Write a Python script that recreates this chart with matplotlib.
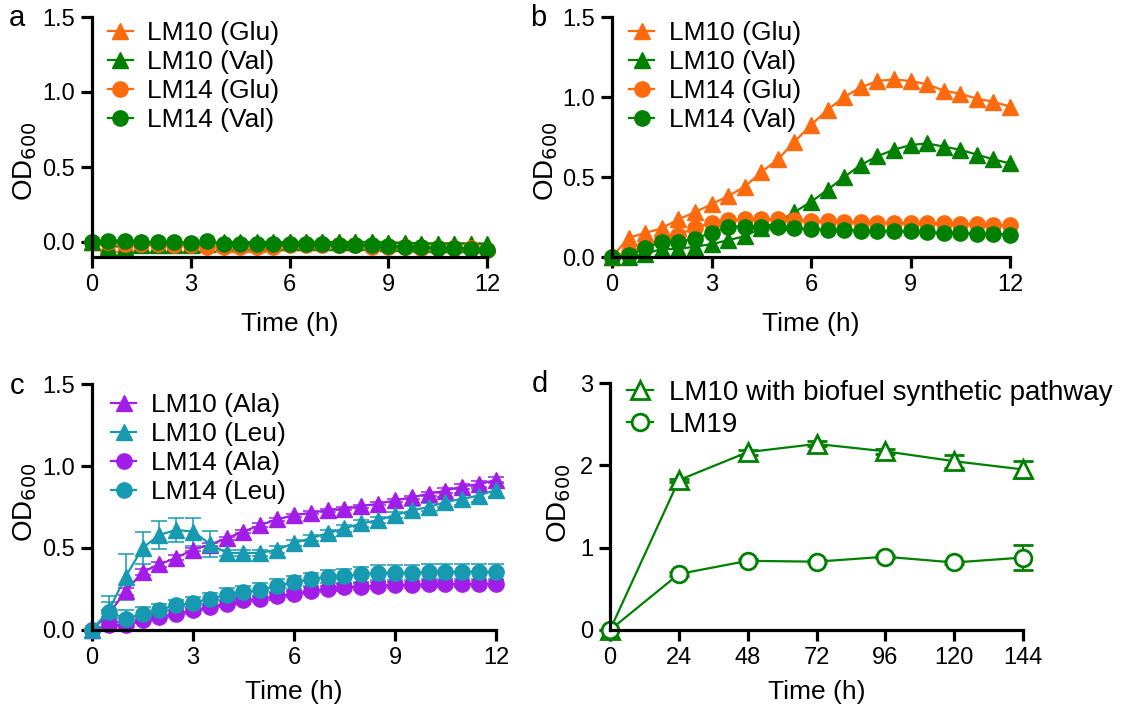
import matplotlib
matplotlib.use("Agg")
import matplotlib.pyplot as plt
from matplotlib.lines import Line2D

plt.rcParams['font.family'] = ['Liberation Sans', 'DejaVu Sans']

# ---------------- data ----------------
t = [0, 0.5, 1, 1.5, 2, 2.5, 3, 3.5, 4, 4.5, 5, 5.5, 6, 6.5, 7, 7.5, 8, 8.5,
     9, 9.5, 10, 10.5, 11, 11.5, 12]

# panel a
a_lm10_glu = [0.0, -0.01, -0.01, -0.01, -0.01, -0.01, -0.01, -0.01, -0.01, -0.01, -0.01, -0.005, 0.0,
              0.0, 0.0, 0.0, 0.0, 0.0, -0.005, -0.005, -0.01, -0.01, -0.01, -0.01, -0.02]
a_lm10_val = [0.0, -0.03, -0.03, -0.02, -0.02, -0.02, -0.02, -0.01, 0.0, 0.0, 0.0, 0.0, 0.0,
              0.0, 0.0, 0.0, 0.0, 0.0, -0.005, -0.005, -0.01, -0.01, -0.01, -0.01, -0.01]
a_lm14_glu = [0.0, 0.0, -0.01, -0.01, -0.01, -0.02, -0.02, -0.03, -0.03, -0.03, -0.03, -0.03, -0.02,
              -0.02, -0.02, -0.02, -0.02, -0.03, -0.03, -0.03, -0.04, -0.04, -0.04, -0.04, -0.05]
a_lm14_val = [0.0, 0.01, 0.01, 0.0, 0.0, 0.0, -0.005, 0.005, -0.01, -0.01, -0.01, -0.015, -0.015,
              -0.015, -0.015, -0.02, -0.02, -0.02, -0.025, -0.03, -0.035, -0.04, -0.04, -0.045, -0.05]

# panel b
b_lm10_glu = [0.0, 0.12, 0.15, 0.18, 0.235, 0.28, 0.33, 0.38, 0.44, 0.53, 0.61, 0.72, 0.825,
              0.92, 1.0, 1.06, 1.10, 1.11, 1.10, 1.08, 1.04, 1.02, 0.99, 0.97, 0.94]
b_lm10_val = [0.0, 0.0, 0.02, 0.05, 0.05, 0.065, 0.08, 0.105, 0.13, 0.18, 0.22, 0.28, 0.345,
              0.42, 0.50, 0.575, 0.63, 0.67, 0.70, 0.71, 0.69, 0.67, 0.64, 0.61, 0.585]
b_lm14_glu = [0.0, 0.03, 0.07, 0.11, 0.14, 0.18, 0.215, 0.23, 0.235, 0.235, 0.235, 0.23, 0.225,
              0.225, 0.22, 0.22, 0.215, 0.215, 0.21, 0.21, 0.21, 0.205, 0.205, 0.20, 0.20]
b_lm14_val = [0.0, 0.01, 0.055, 0.095, 0.095, 0.115, 0.15, 0.19, 0.19, 0.185, 0.185, 0.18, 0.175,
              0.17, 0.17, 0.165, 0.165, 0.16, 0.16, 0.155, 0.15, 0.15, 0.145, 0.145, 0.14]

# panel c
c_lm10_ala = [0.0, 0.10, 0.235, 0.355, 0.40, 0.44, 0.49, 0.52, 0.56, 0.60, 0.64, 0.675, 0.70,
              0.715, 0.73, 0.74, 0.755, 0.77, 0.79, 0.81, 0.83, 0.85, 0.875, 0.89, 0.915]
c_lm10_ala_err = [0.0, 0.02, 0.02, 0.02, 0.015, 0.015, 0.01, 0.01, 0.01, 0.01, 0.01, 0.01, 0.01,
                  0.01, 0.01, 0.01, 0.01, 0.01, 0.01, 0.01, 0.01, 0.015, 0.015, 0.02, 0.02]
c_lm10_leu = [0.0, 0.12, 0.325, 0.50, 0.58, 0.61, 0.60, 0.525, 0.47, 0.47, 0.47, 0.49, 0.53,
              0.56, 0.59, 0.62, 0.65, 0.67, 0.70, 0.73, 0.75, 0.78, 0.80, 0.82, 0.855]
c_lm10_leu_err = [0.0, 0.09, 0.14, 0.10, 0.085, 0.075, 0.085, 0.08, 0.02, 0.02, 0.02, 0.02, 0.02,
                  0.02, 0.02, 0.02, 0.02, 0.02, 0.02, 0.025, 0.025, 0.03, 0.035, 0.04, 0.045]
c_lm14_ala = [0.0, 0.03, 0.03, 0.06, 0.08, 0.10, 0.12, 0.14, 0.16, 0.18, 0.19, 0.205, 0.22,
              0.24, 0.25, 0.26, 0.265, 0.27, 0.275, 0.275, 0.28, 0.28, 0.28, 0.28, 0.28]
c_lm14_ala_err = [0.0, 0.02, 0.02, 0.02, 0.02, 0.02, 0.02, 0.02, 0.02, 0.02, 0.02, 0.02, 0.02,
                  0.02, 0.02, 0.02, 0.02, 0.02, 0.02, 0.02, 0.02, 0.02, 0.02, 0.02, 0.02]
c_lm14_leu = [0.0, 0.11, 0.07, 0.10, 0.125, 0.15, 0.165, 0.19, 0.215, 0.23, 0.245, 0.27, 0.29,
              0.31, 0.325, 0.33, 0.34, 0.35, 0.35, 0.35, 0.355, 0.355, 0.355, 0.355, 0.355]
c_lm14_leu_err = [0.0, 0.06, 0.05, 0.04, 0.035, 0.035, 0.035, 0.035, 0.04, 0.04, 0.04, 0.04, 0.04,
                  0.04, 0.04, 0.045, 0.045, 0.045, 0.045, 0.045, 0.045, 0.045, 0.045, 0.045, 0.045]

# panel d
d_t = [0, 24, 48, 72, 96, 120, 144]
d_lm10 = [0.0, 1.82, 2.16, 2.26, 2.17, 2.05, 1.95]
d_lm10_err = [0.0, 0.02, 0.03, 0.03, 0.03, 0.08, 0.10]
d_lm19 = [0.0, 0.68, 0.84, 0.83, 0.89, 0.82, 0.88]
d_lm19_err = [0.0, 0.02, 0.02, 0.02, 0.02, 0.02, 0.15]

ORANGE = '#FF6A0D'
GREEN = '#008000'
PURPLE = '#A31DE8'
TEAL = '#1899B2'

TICK_FS = 17
LAB_FS = 19
LEG_FS = 19
LW = 1.6
SPINE_LW = 2.3
MS_TRI = 11.5
MS_CIR = 11

W, H = 1126, 715
fig = plt.figure(figsize=(W / 100, H / 100), dpi=100)


def add_ax(left, right, top, bottom):
    return fig.add_axes([left / W, 1 - bottom / H, (right - left) / W, (bottom - top) / H])


def style(ax, xlabpad, ylab_x, ylab_y):
    for s in ['top', 'right']:
        ax.spines[s].set_visible(False)
    for s in ['left', 'bottom']:
        ax.spines[s].set_linewidth(SPINE_LW)
    ax.tick_params(width=SPINE_LW, length=8, labelsize=TICK_FS, direction='out', pad=4)
    ax.set_xlabel('Time (h)', fontsize=LAB_FS, labelpad=xlabpad)
    ax.set_ylabel('OD$_{600}$', fontsize=LAB_FS + 1)
    ax.yaxis.set_label_coords(ylab_x, ylab_y)


def legend(ax, handles, x, y, spacing=0.19, fs=LEG_FS):
    ax.legend(handles=handles, loc='upper left', bbox_to_anchor=(x, y), frameon=False,
              fontsize=fs, handlelength=0.95, handletextpad=0.55, labelspacing=spacing,
              borderpad=0, borderaxespad=0)


def handle(c, m, lab, ms, mfc=None, mew=1.0):
    return Line2D([], [], color=c, marker=m, ms=ms, lw=LW, label=lab,
                  mfc=mfc if mfc else c, mew=mew)


axa = add_ax(92, 487, 17, 257)
axb = add_ax(612, 1010, 17, 257)
axc = add_ax(92, 496, 384, 630)
axd = add_ax(610, 1023, 383, 630)

# ---- panel a ----
ha = []
for y, c, m, lab in [(a_lm10_glu, ORANGE, '^', 'LM10 (Glu)'), (a_lm10_val, GREEN, '^', 'LM10 (Val)'),
                     (a_lm14_glu, ORANGE, 'o', 'LM14 (Glu)'), (a_lm14_val, GREEN, 'o', 'LM14 (Val)')]:
    ms = MS_TRI if m == '^' else MS_CIR
    axa.plot(t, y, color=c, marker=m, ms=ms, lw=LW, clip_on=False)
    ha.append(handle(c, m, lab, ms))
axa.set_xlim(0, 12)
axa.set_ylim(-0.1, 1.5)
axa.set_yticks([0, 0.5, 1.0, 1.5])
axa.set_yticklabels(['0.0', '0.5', '1.0', '1.5'])
axa.set_xticks([0, 3, 6, 9, 12])
style(axa, 12, -0.135, 0.40)
legend(axa, ha, 0.04, 0.982)

# ---- panel b ----
hb = []
for y, c, m, lab in [(b_lm10_glu, ORANGE, '^', 'LM10 (Glu)'), (b_lm10_val, GREEN, '^', 'LM10 (Val)'),
                     (b_lm14_glu, ORANGE, 'o', 'LM14 (Glu)'), (b_lm14_val, GREEN, 'o', 'LM14 (Val)')]:
    ms = MS_TRI if m == '^' else MS_CIR
    axb.plot(t, y, color=c, marker=m, ms=ms, lw=LW, clip_on=False)
    hb.append(handle(c, m, lab, ms))
axb.set_xlim(0, 12)
axb.set_ylim(0, 1.5)
axb.set_yticks([0, 0.5, 1.0, 1.5])
axb.set_yticklabels(['0.0', '0.5', '1.0', '1.5'])
axb.set_xticks([0, 3, 6, 9, 12])
style(axb, 12, -0.13, 0.40)
legend(axb, hb, 0.043, 0.982)

# ---- panel c ----
hc = []
for y, e, c, m, lab in [(c_lm10_ala, c_lm10_ala_err, PURPLE, '^', 'LM10 (Ala)'),
                        (c_lm10_leu, c_lm10_leu_err, TEAL, '^', 'LM10 (Leu)'),
                        (c_lm14_ala, c_lm14_ala_err, PURPLE, 'o', 'LM14 (Ala)'),
                        (c_lm14_leu, c_lm14_leu_err, TEAL, 'o', 'LM14 (Leu)')]:
    ms = MS_TRI if m == '^' else MS_CIR
    axc.errorbar(t, y, yerr=e, color=c, marker=m, ms=ms, lw=LW, elinewidth=1.1,
                 capsize=6, capthick=1.1, clip_on=False)
    hc.append(handle(c, m, lab, ms))
axc.set_xlim(0, 12)
axc.set_ylim(0, 1.5)
axc.set_yticks([0, 0.5, 1.0, 1.5])
axc.set_yticklabels(['0.0', '0.5', '1.0', '1.5'])
axc.set_xticks([0, 3, 6, 9, 12])
style(axc, 8, -0.132, 0.52)
legend(axc, hc, 0.047, 0.964)

# ---- panel d ----
axd.errorbar(d_t, d_lm10, yerr=d_lm10_err, color=GREEN, marker='^', ms=13, mfc='white', mew=2,
             lw=LW, elinewidth=1.6, capsize=7, capthick=1.6, clip_on=False)
axd.errorbar(d_t, d_lm19, yerr=d_lm19_err, color=GREEN, marker='o', ms=12, mfc='white', mew=2,
             lw=LW, elinewidth=1.6, capsize=7, capthick=1.6, clip_on=False)
hd = [handle(GREEN, '^', 'LM10 with biofuel synthetic pathway', 13, 'white', 2),
      handle(GREEN, 'o', 'LM19', 12, 'white', 2)]
axd.set_xlim(0, 144)
axd.set_ylim(0, 3)
axd.set_yticks([0, 1, 2, 3])
axd.set_xticks(d_t)
style(axd, 8, -0.09, 0.514)
legend(axd, hd, 0.041, 1.013, spacing=0.22, fs=20)

# panel letters
for x, y, s in [(17, 18, 'a'), (538, 18, 'b'), (17, 386, 'c'), (540, 384, 'd')]:
    fig.text(x / W, 1 - y / H, s, fontsize=21, ha='center', va='center')

fig.savefig('out.png', dpi=100)
